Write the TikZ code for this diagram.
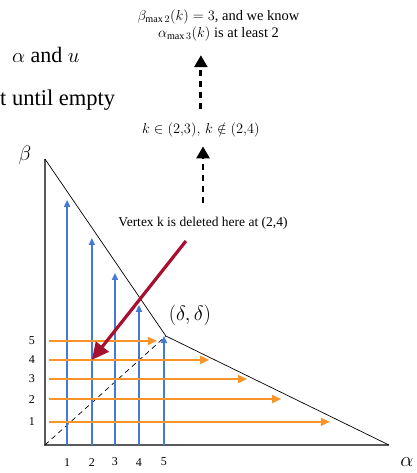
\documentclass[tikz,border=0pt]{standalone}
\usepackage{fontspec}
\setmainfont{Liberation Serif}
\usetikzlibrary{arrows.meta}
\definecolor{vblue}{RGB}{68,122,214}
\definecolor{horange}{RGB}{247,148,42}
\definecolor{delred}{RGB}{168,16,48}
\tikzset{
    vstep/.style={vblue, line width=1.6pt, -{Triangle[width=6pt,length=7pt]}},
    hstep/.style={horange, line width=1.6pt, -{Triangle[width=8pt,length=9pt]}},
    upstep/.style={line width=2.8pt, dash pattern=on 6pt off 5pt, -{Triangle[width=13pt,length=12pt]}},
    ticklab/.style={font=\fontsize{12}{14}\selectfont, inner sep=1pt},
    note/.style={font=\fontsize{13.5}{16}\selectfont, inner sep=2pt, align=center},
}
\begin{document}
\begin{tikzpicture}[x=23.8pt, y=20.6pt]
    \useasboundingbox (-1.89,-1.36) rectangle (15.63,21.6);
    % cropped slide text
    \node[anchor=west, inner sep=0pt, font=\fontsize{22}{24}\selectfont] (slide1) at (-1.39,18.93) {$\alpha$ and $u$};
    \node[anchor=west, inner sep=0pt, font=\fontsize{22.5}{24}\selectfont] (slide2) at (-1.89,16.75) {t until empty};
    % region
    \coordinate (O) at (0,0);
    \coordinate (B) at (0,13.88);
    \coordinate (A) at (14.45,0);
    \coordinate (D) at (5.08,5.29);
    \draw[black!65, line width=1.5pt] (B) -- (O) -- (A);
    \draw[line width=0.7pt] (B) -- (D) -- (A);
    \draw[dashed, line width=0.7pt, dash pattern=on 5pt off 4pt] (O) -- (D);
    \node[font=\fontsize{22}{24}\selectfont] (beta) at (-0.84,14.08) {$\beta$};
    \node[font=\fontsize{22}{24}\selectfont] (alpha) at (15.21,-0.83) {$\alpha$};
    \node[font=\fontsize{21}{24}\selectfont] (dd) at (6.09,6.31) {$(\delta,\delta)$};
    % blue columns
    \foreach \i/\x/\t in {1/0.93/11.9, 2/1.97/10.05, 3/2.94/8.35, 4/3.95/6.8, 5/5.0/5.29} {
        \coordinate (c\i) at (\x,0);
        \coordinate (ct\i) at (\x,\t);
        \draw[vstep] (c\i) -- (ct\i);
        \node[ticklab] (bx\i) at (\x,-0.83) {\i};
    }
    % orange rows
    \foreach \i/\y/\e in {1/1.12/11.97, 2/2.23/9.92, 3/3.2/8.49, 4/4.13/6.9, 5/5.05/4.7} {
        \coordinate (r\i) at (0.17,\y);
        \coordinate (re\i) at (\e,\y);
        \draw[hstep] (r\i) -- (re\i);
        \node[ticklab] (ly\i) at (-0.55,\y) {\i};
    }
    % deletion
    \node[note] (vertex) at (6.64,10.78) {Vertex k is deleted here at (2,4)};
    \coordinate (redstart) at (5.92,9.9);
    \coordinate (hit) at (1.97,4.13);
    \draw[delred, line width=3.2pt, -{Triangle[width=16pt,length=17pt]}] (redstart) -- (hit);
    % what we learn
    \node[note] (kin) at (6.55,15.29) {$k \in (2{,}3),\, k \notin (2{,}4)$};
    \node[note, font=\fontsize{14.5}{17}\selectfont] (maxtext) at (7.29,20.37) {$\beta_{\max 2}(k) = 3$, and we know\\$\alpha_{\max 3}(k)$ is at least 2};
    \draw[upstep, shorten <=12pt, shorten >=7pt] (vertex.north) -- (vertex.north |- kin.south);
    \draw[upstep, shorten <=12pt, shorten >=12pt] (kin.north) -- (kin.north |- maxtext.south);
\end{tikzpicture}
\end{document}
